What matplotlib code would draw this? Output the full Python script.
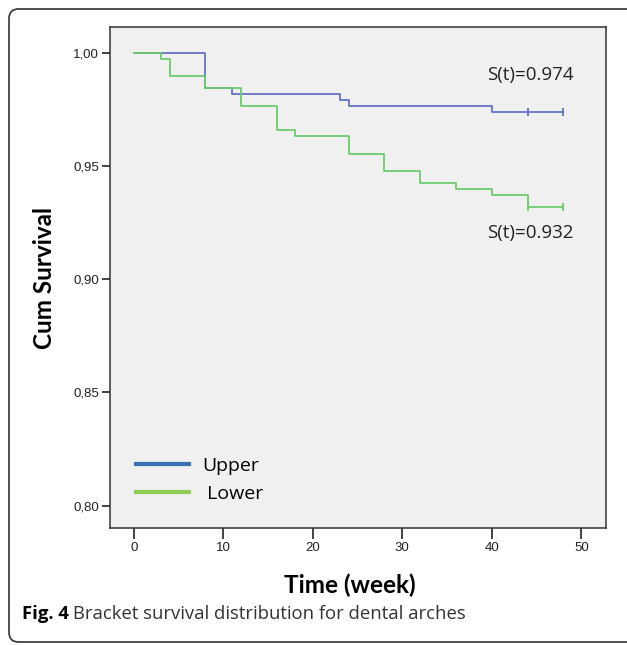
import matplotlib
matplotlib.use("Agg")
import matplotlib.pyplot as plt
from matplotlib.lines import Line2D
from matplotlib.patches import FancyBboxPatch

# Kaplan-Meier step data
upper_t = [0, 8, 11, 23, 24, 40, 48]
upper_s = [1.0, 0.9844, 0.9818, 0.9790, 0.9764, 0.9738, 0.9738]
upper_cens = [44, 48]

lower_t = [0, 3, 4, 8, 12, 16, 18, 24, 28, 32, 36, 40, 44, 48]
lower_s = [1.0, 0.9970, 0.9897, 0.9844, 0.9764, 0.9658, 0.9632, 0.9554,
           0.9478, 0.9424, 0.9398, 0.9371, 0.9317, 0.9317]
lower_cens = [44, 48]

xticks = [0, 10, 20, 30, 40, 50]
yticks = [0.80, 0.85, 0.90, 0.95, 1.00]
ytick_labels = ['0,80', '0,85', '0,90', '0,95', '1,00']

blue = '#6373c3'
green = '#6dcb6d'
W, H = 627, 645

fig = plt.figure(figsize=(W / 100, H / 100), dpi=100)
ax = fig.add_axes([110 / W, 1 - 528 / H, 496 / W, 501 / H])
ax.set_facecolor('#f0f0f0')


def surv_at(ts, ss, t):
    v = ss[0]
    for a, b in zip(ts, ss):
        if a <= t:
            v = b
    return v


ax.step(upper_t, upper_s, where='post', color=blue, lw=1.3)
ax.step(lower_t, lower_s, where='post', color=green, lw=1.3)
ax.plot(upper_cens, [surv_at(upper_t, upper_s, c) for c in upper_cens],
        ls='none', marker='|', ms=6, mew=1.3, color=blue)
ax.plot(lower_cens, [surv_at(lower_t, lower_s, c) for c in lower_cens],
        ls='none', marker='|', ms=6, mew=1.3, color=green)

ax.set_xlim(-2.65, 52.75)
ax.set_ylim(0.7902, 1.0113)
ax.set_xticks(xticks)
ax.set_yticks(yticks)
ax.set_yticklabels(ytick_labels)
for lab in ax.get_xticklabels() + ax.get_yticklabels():
    lab.set_fontfamily(['Liberation Sans Narrow', 'Liberation Sans'])
    lab.set_fontsize(9.5)
    lab.set_color('#222222')
ax.tick_params(axis='x', length=8, width=1.2, pad=2, color='#222222')
ax.tick_params(axis='y', length=6, width=1.2, pad=2, color='#222222')
for sp in ax.spines.values():
    sp.set_color('#333333')
    sp.set_linewidth(1.1)

ax.text(44.3, 0.9903, 'S(t)=0.974', ha='center', va='center',
        fontsize=13.5, family='Open Sans', color='#222222')
ax.text(44.3, 0.9206, 'S(t)=0.932', ha='center', va='center',
        fontsize=13.5, family='Open Sans', color='#222222')

handles = [Line2D([], [], color='#3a70b8', lw=3),
           Line2D([], [], color='#8ccf50', lw=3)]
ax.legend(handles, ['Upper', ' Lower'], loc='upper left',
          bbox_to_anchor=(136 / W, 1 - 457 / H), bbox_transform=fig.transFigure,
          frameon=False, borderpad=0, borderaxespad=0, handlelength=2.75,
          handletextpad=0.65, labelspacing=0.5,
          prop=dict(family='Open Sans', size=14))

fig.text(44 / W, 1 - 278 / H, 'Cum Survival', rotation=90, ha='center',
         va='center', fontsize=17.5, fontweight='bold', family='Lato')
fig.text(350 / W, 1 - 585 / H, 'Time (week)', ha='center', va='center',
         fontsize=17.5, fontweight='bold', family='Lato')

# caption
cap1 = fig.text(22 / W, 1 - 614 / H, 'Fig. 4', ha='left', va='center',
                fontsize=13.3, fontweight='bold', family='Open Sans')
fig.canvas.draw()
bb = cap1.get_window_extent()
fig.text((bb.x1 + 4) / W, 1 - 614 / H,
         'Bracket survival distribution for dental arches', ha='left',
         va='center', fontsize=13.3, family='Open Sans', color='#333333')

# rounded outer frame
frame = FancyBboxPatch((9 / W, 1 - 642 / H), 640 / W, 633 / H,
                       boxstyle='round,pad=0,rounding_size=0.015',
                       transform=fig.transFigure, fill=False,
                       ec='#333333', lw=1.2, clip_on=False)
fig.patches.append(frame)

fig.savefig('out.png', dpi=100)
